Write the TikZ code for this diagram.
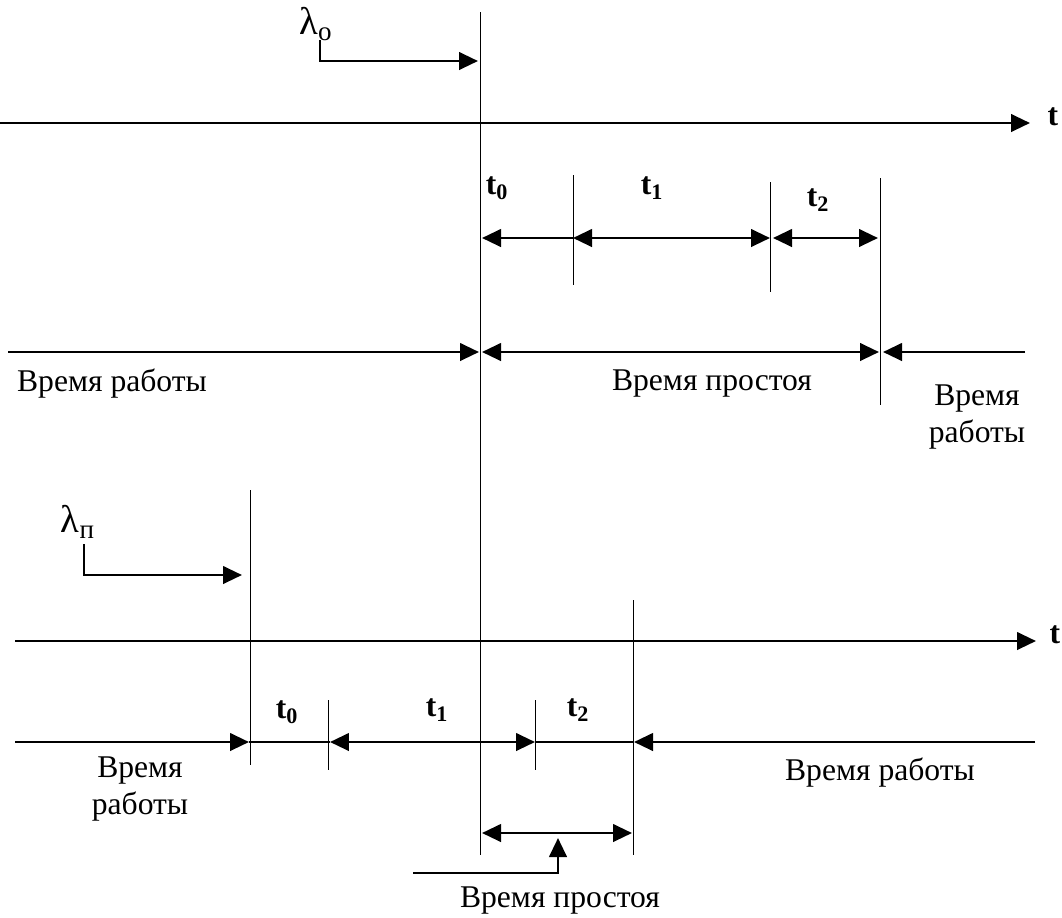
\documentclass[tikz,border=0pt]{standalone}
\usepackage{fontspec}
\setmainfont{Liberation Serif}
\usetikzlibrary{arrows.meta}
\tikzset{>={Triangle[length=0.38cm,width=0.35cm]},
  axis/.style={line width=1.5pt},
  span/.style={line width=1.5pt},
  vline/.style={line width=0.5pt},
  lbl/.style={font=\fontsize{18}{21}\selectfont, inner sep=1pt, align=center},
  tlbl/.style={font=\bfseries\fontsize{18}{21}\selectfont, inner sep=1pt},
  lamlbl/.style={font=\fontsize{22}{24}\selectfont, inner sep=1pt},
}

\begin{document}
\begin{tikzpicture}[x=0.02cm,y=-0.02cm]
  \useasboundingbox (0,0) rectangle (1062,917);

  % Points
  \coordinate (mainT) at (480,12);
  \coordinate (mainB) at (480,855);
  \coordinate (axAs) at (0,123);
  \coordinate (axAe) at (1030,123);
  \coordinate (axBs) at (15,641);
  \coordinate (axBe) at (1036,641);
  \coordinate (lamOs) at (320,40);
  \coordinate (lamOe) at (478,61);
  \coordinate (lamPs) at (84,544);
  \coordinate (lamPe) at (242,575);

  % Nodes
  \node[lamlbl] (lamO) at (316,24) {λ\textsubscript{о}};
  \node[lamlbl] (lamP) at (78,522) {λ\textsubscript{п}};
  \node[tlbl] (tA) at (1053,117) {t};
  \node[tlbl] (tB) at (1055,635) {t};
  \node[tlbl] (t0a) at (497,188) {t\textsubscript{0}};
  \node[tlbl] (t1a) at (652,188) {t\textsubscript{1}};
  \node[tlbl] (t2a) at (818,200) {t\textsubscript{2}};
  \node[tlbl] (t0b) at (287,712) {t\textsubscript{0}};
  \node[tlbl] (t1b) at (437,710) {t\textsubscript{1}};
  \node[tlbl] (t2b) at (578,710) {t\textsubscript{2}};
  \node[lbl] (workA) at (112,384) {Время работы};
  \node[lbl] (idleA) at (712,384) {Время простоя};
  \node[lbl] (workA2) at (977,417) {Время\\работы};
  \node[lbl] (workB) at (140,789) {Время\\работы};
  \node[lbl] (workB2) at (880,773) {Время работы};
  \node[lbl] (idleB) at (560,900) {Время простоя};

  % Verticals
  \draw[vline] (mainT) -- (mainB);
  \draw[vline] (573,175) coordinate (a1) -- (573,285);
  \draw[vline] (770,182) coordinate (a2) -- (770,292);
  \draw[vline] (880,178) coordinate (a3) -- (880,405);
  \draw[vline] (250,490) coordinate (b0) -- (250,765);
  \draw[vline] (328,700) coordinate (b1) -- (328,770);
  \draw[vline] (535,700) coordinate (b2) -- (535,770);
  \draw[vline] (633,600) coordinate (b3) -- (633,855);

  % Axes
  \draw[axis,->] (axAs) -- (axAe);
  \draw[axis,->] (axBs) -- (axBe);
  \draw[span,->] (lamOs) |- (lamOe);
  \draw[span,->] (lamPs) |- (lamPe);

  % Top spans
  \coordinate (p0) at (482,238);
  \coordinate (p1) at (573,238);
  \coordinate (p2) at (770,238);
  \coordinate (p3) at (773,238);
  \coordinate (p4) at (878,238);
  \draw[span,->] (p1) -- (p0);
  \draw[span,<->] (p1) -- (p2);
  \draw[span,<->] (p3) -- (p4);

  % Middle row
  \coordinate (m0) at (8,352);
  \coordinate (m1) at (479,352);
  \coordinate (m2) at (482,352);
  \coordinate (m3) at (879,352);
  \coordinate (m4) at (883,352);
  \coordinate (m5) at (1025,352);
  \draw[span,->] (m0) -- (m1);
  \draw[span,<->] (m2) -- (m3);
  \draw[span,->] (m5) -- (m4);

  % Bottom row
  \coordinate (r0) at (15,742);
  \coordinate (r1) at (249,742);
  \coordinate (r2) at (330,742);
  \coordinate (r3) at (535,742);
  \coordinate (r4) at (634,742);
  \coordinate (r5) at (1035,742);
  \draw[span,->] (r0) -- (r1);
  \draw[span] (r1) -- (r2);
  \draw[span,<->] (r2) -- (r3);
  \draw[span] (r3) -- (r4);
  \draw[span,->] (r5) -- (r4);

  % Idle marker
  \coordinate (q0) at (482,833);
  \coordinate (q1) at (632,833);
  \coordinate (q2) at (413,873);
  \coordinate (q3) at (558,838);
  \draw[span,<->] (q0) -- (q1);
  \draw[span,->] (q2) -| (q3);
\end{tikzpicture}
\end{document}
